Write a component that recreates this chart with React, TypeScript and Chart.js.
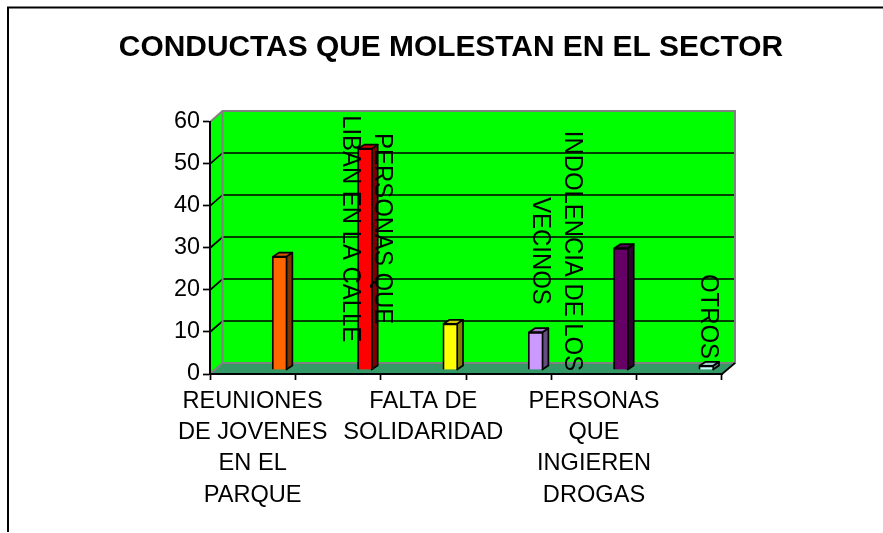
import React, { useEffect, useRef } from "react";
import { Chart, registerables } from "chart.js";

Chart.register(...registerables);

const categories = [
  "REUNIONES DE JOVENES EN EL PARQUE",
  "PERSONAS QUE LIBAN EN LA CALLE",
  "FALTA DE SOLIDARIDAD",
  "INDOLENCIA DE LOS VECINOS",
  "PERSONAS QUE INGIEREN DROGAS",
  "OTROS",
];
const values = [27, 52.7, 11, 9, 29, 1];
const barColors = ["#FF6600", "#FF0000", "#FFFF00", "#CC99FF", "#660066", "#CCFFFF"];
const yTicks = [0, 10, 20, 30, 40, 50, 60];
const axisLabelLines: string[][] = [
  ["REUNIONES", "DE JOVENES", "EN EL", "PARQUE"],
  [],
  ["FALTA DE", "SOLIDARIDAD"],
  [],
  ["PERSONAS", "QUE", "INGIEREN", "DROGAS"],
  [],
];
const barLabelLines: string[][] = [
  [],
  ["PERSONAS QUE", "LIBAN EN LA CALLE"],
  [],
  ["INDOLENCIA DE LOS", "VECINOS"],
  [],
  ["OTROS"],
];
// value on the y scale at which each rotated line is centred
const barLabelCenters: number[][] = [[], [34.6, 34.6], [], [29.3, 29.3], [], [13.7]];
// horizontal distance of each rotated line from the category centre
const barLabelShift: number[][] = [[], [44.5, 12.5], [], [63.5, 31.5], [], [29]];

const TITLE = "CONDUCTAS QUE MOLESTAN EN EL SECTOR";
const FONT = "'Liberation Sans', Arial, sans-serif";
const TICK_SIZE = 23.4;
const AXIS_LABEL_SIZE = 23.6;
const BAR_LABEL_SIZE = 23.9;
const WALL_DX = 12.5;
const WALL_DY = 11;
const BAR_SHIFT_X = 27;
const BAR_SHIFT_Y = -4;
const BAR_DX = 6;
const BAR_DY = 4;

function shade(hex: string, f: number) {
  const n = parseInt(hex.slice(1), 16);
  const c = [(n >> 16) & 255, (n >> 8) & 255, n & 255].map((v) => Math.round(v * f));
  return `rgb(${c[0]},${c[1]},${c[2]})`;
}

function poly(ctx: CanvasRenderingContext2D, pts: number[][], fill: string | null, stroke: string | null, lw = 1) {
  ctx.beginPath();
  pts.forEach((p, i) => (i ? ctx.lineTo(p[0], p[1]) : ctx.moveTo(p[0], p[1])));
  ctx.closePath();
  if (fill) {
    ctx.fillStyle = fill;
    ctx.fill();
  }
  if (stroke) {
    ctx.strokeStyle = stroke;
    ctx.lineWidth = lw;
    ctx.lineJoin = "round";
    ctx.stroke();
  }
}

const scenePlugin = {
  id: "scene3d",
  beforeDraw(chart: any) {
    const { ctx, chartArea: a, scales } = chart;
    const y = scales.y;
    ctx.save();
    // chart frame: only the top and left edges are in the picture
    ctx.strokeStyle = "#000";
    ctx.lineWidth = 2;
    ctx.beginPath();
    ctx.moveTo(8, 532);
    ctx.lineTo(8, 7.5);
    ctx.lineTo(883, 7.5);
    ctx.stroke();

    const L = a.left, R = a.right, T = a.top, B = a.bottom;
    const bL = L + WALL_DX, bR = R + WALL_DX + 0.5, bT = T - WALL_DY, bB = B - WALL_DY;
    // side wall, back wall, floor
    poly(ctx, [[L, T], [bL, bT], [bL, bB], [L, B]], "#00FF00", null);
    poly(ctx, [[bL, bT], [bR, bT], [bR, bB], [bL, bB]], "#00FF00", null);
    poly(ctx, [[L, B], [bL, bB], [bR, bB], [R, B]], "#339966", null);

    // gridlines on the back and side walls
    ctx.strokeStyle = "#000";
    ctx.lineWidth = 1.7;
    yTicks.forEach((v) => {
      const py = y.getPixelForValue(v);
      if (v > 0 && v < 60) {
        ctx.beginPath();
        ctx.moveTo(L, py);
        ctx.lineTo(bL, py - WALL_DY);
        ctx.lineTo(bR, py - WALL_DY);
        ctx.stroke();
      }
    });
    // grey wall edges
    ctx.strokeStyle = "#808080";
    ctx.lineWidth = 2;
    ctx.beginPath();
    ctx.moveTo(L, T);
    ctx.lineTo(bL, bT);
    ctx.lineTo(bR, bT);
    ctx.lineTo(bR, bB);
    ctx.lineTo(bL, bB);
    ctx.lineTo(bL, bT);
    ctx.moveTo(bL, bB);
    ctx.lineTo(L, B);
    ctx.stroke();
    // front edge of the floor
    ctx.strokeStyle = "#000";
    ctx.lineWidth = 1.7;
    ctx.beginPath();
    ctx.moveTo(R, B);
    ctx.lineTo(bR, bB);
    ctx.stroke();
    ctx.restore();
  },
  beforeDatasetDraw(chart: any, args: any) {
    const { ctx } = chart;
    ctx.save();
    ctx.translate(BAR_SHIFT_X, BAR_SHIFT_Y);
    args.meta.data.forEach((el: any, i: number) => {
      const l = el.x - el.width / 2 + 0.8;
      const r = el.x + el.width / 2 - 0.8;
      const color = barColors[i];
      poly(ctx, [[r, el.y], [r + BAR_DX, el.y - BAR_DY], [r + BAR_DX, el.base - BAR_DY], [r, el.base]], shade(color, 0.5), "#000", 1.7);
      poly(ctx, [[l, el.y], [l + BAR_DX, el.y - BAR_DY], [r + BAR_DX, el.y - BAR_DY], [r, el.y]], shade(color, 0.8), "#000", 1.7);
    });
  },
  afterDatasetDraw(chart: any) {
    chart.ctx.restore();
  },
  afterDatasetsDraw(chart: any) {
    const { ctx, scales } = chart;
    ctx.save();
    ctx.fillStyle = "#000";
    ctx.font = `${BAR_LABEL_SIZE}px ${FONT}`;
    ctx.textAlign = "center";
    ctx.textBaseline = "middle";
    barLabelLines.forEach((lines, i) => {
      lines.forEach((line, j) => {
        ctx.save();
        ctx.translate(
          scales.x.getPixelForValue(i) + barLabelShift[i][j],
          scales.y.getPixelForValue(barLabelCenters[i][j])
        );
        ctx.rotate(Math.PI / 2);
        ctx.scale(1, 1.08);
        ctx.fillText(line, 0, 0);
        ctx.restore();
      });
    });
    ctx.restore();
  },
};

export default function App() {
  const ref = useRef<HTMLCanvasElement>(null);
  useEffect(() => {
    const chart = new Chart(ref.current as HTMLCanvasElement, {
      type: "bar",
      data: {
        labels: categories,
        datasets: [
          {
            data: values,
            backgroundColor: barColors,
            borderColor: "#000",
            borderWidth: 1.8,
            barThickness: 15,
            clip: false,
          } as any,
        ],
      },
      options: {
        responsive: false,
        animation: false,
        events: [],
        layout: { padding: { top: 10, left: 19, right: 0, bottom: 0 } },
        plugins: {
          legend: { display: false },
          tooltip: { enabled: false },
          title: {
            display: true,
            text: TITLE,
            color: "#000",
            font: { family: FONT, size: 29.9, weight: "bold", lineHeight: 1.2 },
            padding: { top: 20, bottom: 56.1 },
          },
        },
        scales: {
          x: {
            type: "category",
            grid: { drawOnChartArea: false, drawTicks: true, tickLength: 6, tickColor: "#000", tickWidth: 1.7, offset: true },
            border: { display: true, color: "#000", width: 2 },
            ticks: {
              autoSkip: false,
              maxRotation: 0,
              minRotation: 0,
              color: "#000",
              padding: 6,
              font: { family: FONT, size: AXIS_LABEL_SIZE, lineHeight: 1.32 },
              callback: (_v: any, i: number) => axisLabelLines[i],
            },
            afterFit: (s: any) => {
              s.height = 159;
            },
          },
          y: {
            min: 0,
            max: 60,
            grid: { drawOnChartArea: false, drawTicks: true, tickLength: 7, tickColor: "#000", tickWidth: 1.7 },
            border: { display: true, color: "#000", width: 2 },
            ticks: {
              stepSize: 10,
              color: "#000",
              padding: 3,
              font: { family: FONT, size: TICK_SIZE },
            },
            afterFit: (s: any) => {
              s.width = 191;
            },
          },
          // empty right-hand axis: reserves the white margin beside the plot
          yMargin: {
            type: "linear",
            position: "right",
            grid: { display: false },
            border: { display: false },
            ticks: { display: false },
            afterFit: (s: any) => {
              s.width = 161;
            },
          },
        },
      } as any,
      plugins: [scenePlugin as any],
    });
    return () => chart.destroy();
  }, []);
  return (
    <div style={{ position: "absolute", left: 0, top: 0, width: 883, height: 533 }}>
      <canvas ref={ref} width={883} height={533} style={{ display: "block" }} />
    </div>
  );
}
